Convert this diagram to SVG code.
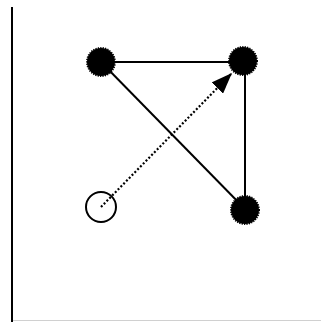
<svg xmlns="http://www.w3.org/2000/svg" width="321" height="322" viewBox="0 0 321 322">
  <style>
    .edge { stroke: #000; stroke-width: 2; fill: none; }
    .dotted { stroke: #000; stroke-width: 2.2; fill: none; stroke-dasharray: 2 2; }
    .solid-node { fill: #000; stroke: #000; stroke-width: 2; stroke-dasharray: 1.2 1.2; }
    .open-node { fill: none; stroke: #000; stroke-width: 2; }
  </style>
  <defs>
    <marker id="arrow" viewBox="0 0 21 16" refX="21" refY="8" markerWidth="21" markerHeight="16" markerUnits="userSpaceOnUse" orient="auto">
      <path d="M0,0 L21,8 L0,16 Z" fill="#000"/>
    </marker>
  </defs>
  <rect x="0" y="0" width="321" height="322" fill="#fff"/>
  <!-- axis frame -->
  <line x1="12" y1="7" x2="12" y2="322" stroke="#000" stroke-width="2"/>
  <line x1="13" y1="320.5" x2="321" y2="320.5" stroke="#d0d0d0" stroke-width="1"/>
  <g id="connectors">
    <line class="edge" x1="101" y1="62" x2="243" y2="62"/>
    <line class="edge" x1="101" y1="62" x2="245" y2="209"/>
    <line class="edge" x1="245" y1="62" x2="245" y2="209"/>
    <line class="dotted" x1="101" y1="207" x2="232" y2="73" marker-end="url(#arrow)"/>
  </g>
  <g id="node-a"><circle class="solid-node" cx="101" cy="62" r="14"/></g>
  <g id="node-b"><circle class="solid-node" cx="243" cy="61" r="14"/></g>
  <g id="node-c"><circle class="solid-node" cx="245" cy="210" r="14"/></g>
  <g id="node-d"><circle class="open-node" cx="101" cy="207" r="15"/></g>
</svg>
